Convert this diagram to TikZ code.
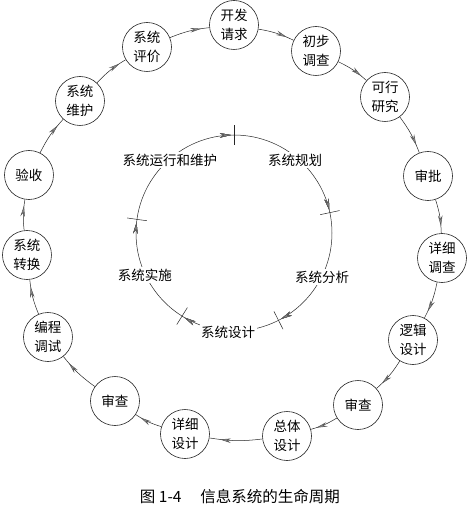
\documentclass[tikz,border=0pt]{standalone}
\usepackage{fontspec}
\setmainfont{Noto Sans CJK SC}
\usetikzlibrary{arrows.meta, decorations.markings}
\definecolor{linie}{gray}{0.15}
\definecolor{spitze}{gray}{0.55}
\tikzset{
  kreis/.style={circle, draw=linie, line width=0.6pt, minimum size=49pt, inner sep=0pt, align=center, font=\fontsize{13.5}{19}\selectfont},
  phase/.style={fill=white, inner sep=1.5pt, font=\fontsize{13.5}{16}\selectfont},
  spitze/.style={-, decoration={markings, mark=at position #1 with {\arrow{Stealth[length=11pt, width=4.5pt, fill=spitze, color=gray!70!black]}}}, postaction={decorate}},
  pfeil/.style={draw=linie, line width=0.5pt, spitze=0.8},
  strich/.style={draw=linie, line width=0.5pt},
}
\begin{document}
\begin{tikzpicture}[x=1pt, y=1pt]
    \useasboundingbox (-234,-278) rectangle (241,233);

    % inner cycle
    \draw[strich, spitze=0.212, spitze=0.42, spitze=0.584, spitze=0.767, spitze=0.995]
      (90:98) arc[start angle=90, end angle=-270, radius=98];
    \foreach \w in {90,12,-63,-122,172}
      \draw[strich] (\w:88) -- (\w:108);
    \node[phase] (SP) at (61,73) {系统规划};
    \node[phase] (SA) at (88,-44) {系统分析};
    \node[phase] (SD) at (-6,-99) {系统设计};
    \node[phase] (SI) at (-89,-42) {系统实施};
    \node[phase] (SB) at (-64,73) {系统运行和维护};

    % outer ring
    \node[kreis] (EA) at (0,208) {开发\\请求};
    \node[kreis] (VU) at (82,182) {初步\\调查};
    \node[kreis] (MS) at (151,136) {可行\\研究};
    \node[kreis] (GN) at (194,57) {审批};
    \node[kreis] (DU) at (208,-25) {详细\\调查};
    \node[kreis] (LE) at (179,-107) {逻辑\\设计};
    \node[kreis] (P1) at (124,-172) {审查};
    \node[kreis] (GE) at (53,-203) {总体\\设计};
    \node[kreis] (DE) at (-49,-201) {详细\\设计};
    \node[kreis] (P2) at (-119,-168) {审查};
    \node[kreis] (PT) at (-186,-104) {编程\\调试};
    \node[kreis] (SU) at (-207,-22) {系统\\转换};
    \node[kreis] (AB) at (-205,58) {验收};
    \node[kreis] (SW) at (-154,132) {系统\\维护};
    \node[kreis] (SE) at (-87,186) {系统\\评价};

    \draw[pfeil] (EA) to[bend left=8] (VU);
    \draw[pfeil] (VU) to[bend left=8] (MS);
    \draw[pfeil] (MS) to[bend left=8] (GN);
    \draw[pfeil] (GN) to[bend left=8] (DU);
    \draw[pfeil] (DU) to[bend left=8] (LE);
    \draw[pfeil] (LE) to[bend left=8] (P1);
    \draw[pfeil] (P1) to[bend left=8] (GE);
    \draw[pfeil] (GE) to[bend left=8] (DE);
    \draw[pfeil] (DE) to[bend left=8] (P2);
    \draw[pfeil] (P2) to[bend left=8] (PT);
    \draw[pfeil] (PT) to[bend left=8] (SU);
    \draw[pfeil] (SU) to[bend left=8] (AB);
    \draw[pfeil] (AB) to[bend left=8] (SW);
    \draw[pfeil] (SW) to[bend left=8] (SE);
    \draw[pfeil] (SE) to[bend left=8] (EA);

    \node[font=\fontsize{15.5}{18}\selectfont] (T) at (6,-264) {图 1-4\quad\ 信息系统的生命周期};
  \end{tikzpicture}
\end{document}
